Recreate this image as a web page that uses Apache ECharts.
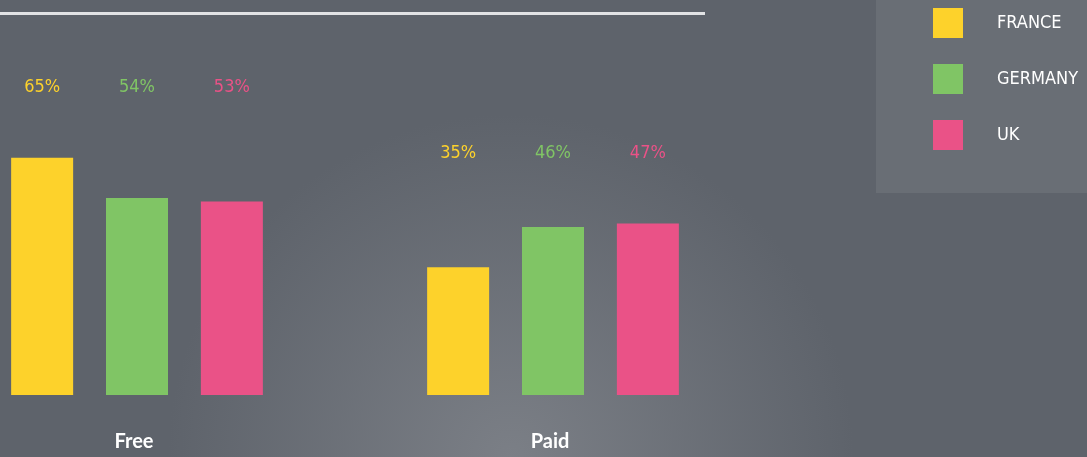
<!DOCTYPE html>
<html>
<head>
<meta charset="utf-8">
<style>
  html, body { margin: 0; padding: 0; background: #60656d; }
  #chart { width: 1087px; height: 457px; }
</style>
<script src="https://cdn.jsdelivr.net/npm/echarts@6/dist/echarts.min.js"></script>
</head>
<body>
<div id="chart"></div>
<script>
// Data
const categories = ['Free', 'Paid'];
const countries = ['FRANCE', 'GERMANY', 'UK'];
const france = [65, 35];
const germany = [54, 46];
const uk = [53, 47];
const colors = ['#fdd22b', '#80c565', '#ea5287'];

function initChart() {
    const el = document.getElementById('chart');
    echarts.dispose(el);
    const chart = echarts.init(el);

    const axisMax = 100;
    const gridTop = 30;
    const gridBottom = 62;
    const pxPerUnit = (457 - gridTop - gridBottom) / axisMax;
    const allSeries = [france, germany, uk];
    const narrowFont = '"DejaVu Sans Condensed", "DejaVu Sans", sans-serif';

    // labels sit at a common height per group, a bit above the tallest bar
    const groupTop = categories.map((c, i) => Math.max(...allSeries.map(s => s[i])) + 19.5);

    const series = countries.map((name, si) => ({
        name: name,
        type: 'bar',
        barWidth: 62,
        barGap: '53%',
        itemStyle: { color: colors[si] },
        data: allSeries[si].map((v, i) => ({
            value: v,
            label: { distance: (groupTop[i] - v) * pxPerUnit - 10 }
        })),
        label: {
            show: true,
            position: 'top',
            formatter: '{c}%',
            color: colors[si],
            fontFamily: narrowFont,
            fontSize: 18
        }
    }));

    const option = {
        backgroundColor: {
            type: 'radial',
            x: 0.47,
            y: 1.0,
            r: 0.75,
            colorStops: [
                { offset: 0, color: '#7b7f86' },
                { offset: 1, color: '#5e636b' }
            ]
        },
        animation: false,
        graphic: [
            {
                type: 'rect',
                shape: { x: 876, y: 0, width: 211, height: 193 },
                style: { fill: 'rgba(255,255,255,0.07)' },
                z: -1
            },
            {
                type: 'line',
                shape: { x1: 0, y1: 13.5, x2: 705, y2: 13.5 },
                style: { stroke: '#e2e3e5', lineWidth: 3 }
            }
        ],
        legend: {
            data: countries,
            orient: 'vertical',
            left: 933,
            top: 8,
            padding: 0,
            itemWidth: 30,
            itemHeight: 30,
            itemGap: 26,
            icon: 'rect',
            textStyle: {
                color: '#ffffff',
                fontFamily: narrowFont,
                fontSize: 18,
                padding: [0, 0, 0, 29]
            }
        },
        grid: {
            left: 137,
            width: 416,
            top: gridTop,
            bottom: gridBottom
        },
        xAxis: {
            type: 'category',
            data: categories,
            boundaryGap: false,
            axisLine: { show: false },
            axisTick: { show: false },
            axisLabel: {
                color: '#ffffff',
                fontFamily: 'Lato',
                fontWeight: 'bold',
                fontSize: 20,
                margin: 37,
                padding: [0, 6, 0, 0]
            }
        },
        yAxis: {
            type: 'value',
            min: 0,
            max: axisMax,
            show: false,
            splitLine: { show: false }
        },
        series: series
    };

    chart.setOption(option);
}

initChart();
</script>
</body>
</html>
